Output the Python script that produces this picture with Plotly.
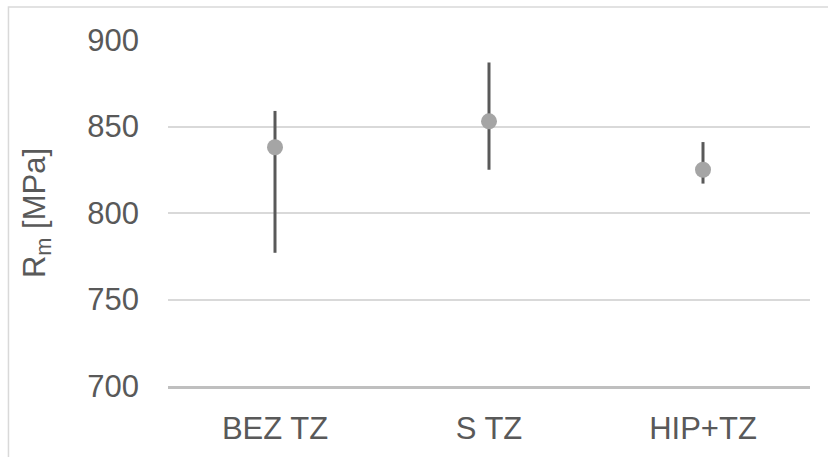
import plotly.graph_objects as go

# Tensile strength by treatment: mean with min/max spread
categories = ["BEZ TZ", "S TZ", "HIP+TZ"]
rm_mean = [838, 853, 825]
rm_err_plus = [21, 34, 16]
rm_err_minus = [61, 28, 8]
y_ticks = [700, 750, 800, 850, 900]

FONT = "Liberation Sans, Arial, sans-serif"
TEXT = "#595959"
FS = 31

fig = go.Figure(
    go.Scatter(
        x=categories,
        y=rm_mean,
        mode="markers",
        marker=dict(color="#a5a5a5", size=16),
        error_y=dict(
            type="data",
            symmetric=False,
            array=rm_err_plus,
            arrayminus=rm_err_minus,
            color="#595959",
            thickness=3,
            width=0,
        ),
        showlegend=False,
    )
)

# outer chart frame
fig.add_shape(
    type="rect", xref="paper", yref="paper",
    x0=-0.2485, x1=1.04, y0=-0.25, y1=1.0954,
    line=dict(color="#d9d9d9", width=1.5), fillcolor="rgba(0,0,0,0)",
    layer="below",
)

fig.update_layout(
    width=828,
    height=457,
    margin=dict(l=168, r=18, t=40, b=71),
    paper_bgcolor="white",
    plot_bgcolor="white",
    font=dict(family=FONT, size=FS, color=TEXT),
    xaxis=dict(
        range=[-0.5, 2.5],
        showgrid=False,
        showline=True,
        linecolor="#bfbfbf",
        linewidth=2.5,
        ticks="",
        ticklabelstandoff=13,
        tickfont=dict(size=FS, color=TEXT),
        fixedrange=True,
    ),
    yaxis=dict(
        range=[700, 900],
        tickvals=y_ticks,
        showgrid=True,
        gridcolor="#d9d9d9",
        gridwidth=1.5,
        zeroline=False,
        showline=False,
        ticks="",
        ticklabelstandoff=28,
        tickfont=dict(size=FS, color=TEXT),
        title=dict(text="R<sub>m</sub> [MPa]", font=dict(size=FS, color=TEXT), standoff=32),
        automargin=False,
        fixedrange=True,
    ),
)

fig.write_html("out.html")
